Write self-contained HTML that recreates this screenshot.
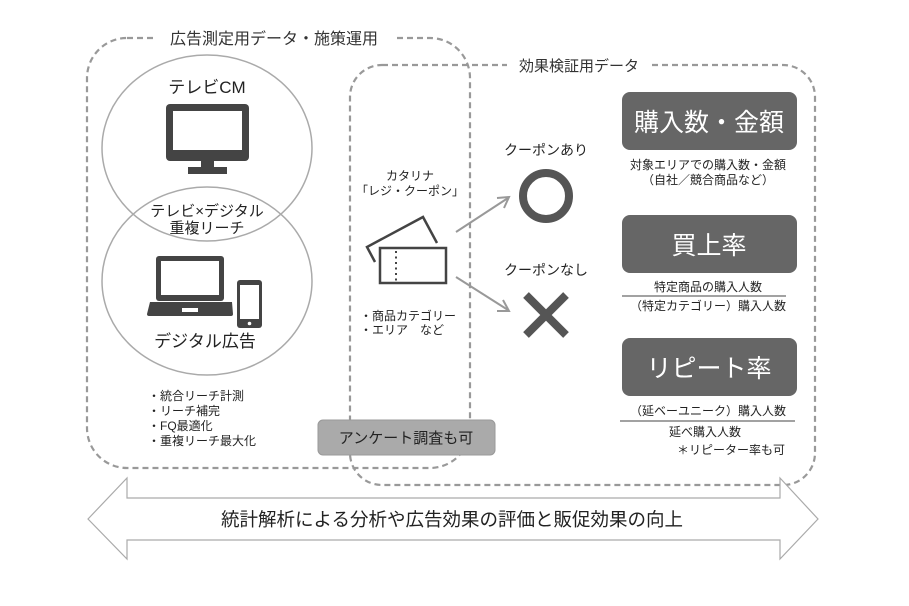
<!DOCTYPE html>
<html><head><meta charset="utf-8"><style>
html,body{margin:0;padding:0;background:#fff}
svg text{font-family:"Liberation Sans","Noto Sans CJK JP",sans-serif}
</style></head><body>
<svg width="909" height="601" viewBox="0 0 909 601" xmlns="http://www.w3.org/2000/svg">
<g fill="none" stroke="#999" stroke-width="2.2" stroke-dasharray="6,4">
<rect x="87" y="38" width="383" height="430" rx="40"/>
<rect x="350" y="65" width="465" height="420" rx="32"/>
</g>
<rect x="154" y="28" width="240" height="20" fill="#fff"/>
<text x="274" y="44" font-size="16" text-anchor="middle" fill="#333">広告測定用データ・施策運用</text>
<rect x="507" y="56" width="144" height="20" fill="#fff"/>
<text x="579" y="71" font-size="15" text-anchor="middle" fill="#333">効果検証用データ</text>

<ellipse cx="207" cy="148" rx="105" ry="93" fill="none" stroke="#aaa" stroke-width="1.5"/>
<ellipse cx="207" cy="281" rx="105" ry="94" fill="none" stroke="#aaa" stroke-width="1.5"/>
<text x="207" y="93" font-size="17" text-anchor="middle" fill="#222">テレビCM</text>
<rect x="166" y="104" width="83" height="57" rx="4" fill="#444"/>
<rect x="173" y="111" width="69" height="39" fill="#fff"/>
<rect x="201" y="160" width="13" height="8" fill="#444"/>
<rect x="188" y="167" width="39" height="7" fill="#444"/>
<text x="207" y="216" font-size="15" text-anchor="middle" fill="#222">テレビ×デジタル</text>
<text x="207" y="233" font-size="15" text-anchor="middle" fill="#222">重複リーチ</text>
<rect x="156" y="256" width="68" height="45" rx="3" fill="#444"/>
<rect x="161" y="261" width="58" height="34" fill="#fff"/>
<path d="M150 302 H232 L233 314 Q233 316 231 316 H149 Q147 316 147 314 Z" fill="#444"/>
<rect x="182" y="308" width="16" height="4" fill="#fff"/>
<rect x="237" y="280" width="25" height="48" rx="3" fill="#444"/>
<rect x="240" y="285" width="19" height="34" fill="#fff"/>
<circle cx="249.5" cy="323.5" r="1.8" fill="#fff"/>
<text x="205" y="347" font-size="17" text-anchor="middle" fill="#222">デジタル広告</text>
<g font-size="12" fill="#222">
<text x="148" y="400">・統合リーチ計測</text>
<text x="148" y="415">・リーチ補完</text>
<text x="148" y="430">・FQ最適化</text>
<text x="148" y="445">・重複リーチ最大化</text>
</g>

<text x="410" y="180" font-size="12" text-anchor="middle" fill="#222">カタリナ</text>
<text x="410" y="195" font-size="12" text-anchor="middle" fill="#222">「レジ・クーポン」</text>
<polyline points="375,262 367,247 423,217 437,243" fill="none" stroke="#444" stroke-width="2.5"/>
<rect x="380" y="248" width="66" height="35" fill="#fff" stroke="#444" stroke-width="2.5"/>
<line x1="396" y1="251" x2="396" y2="282" stroke="#444" stroke-width="2" stroke-dasharray="2,3.5"/>
<text x="360" y="320" font-size="12" fill="#222">・商品カテゴリー</text>
<text x="360" y="334" font-size="12" fill="#222">・エリア　など</text>
<rect x="318" y="420" width="177" height="35" rx="5" fill="#aaa" stroke="#999"/>
<text x="406" y="443" font-size="15" text-anchor="middle" fill="#222">アンケート調査も可</text>

<g stroke="#999" stroke-width="2" fill="none">
<line x1="456" y1="232" x2="508" y2="198"/>
<polyline points="497,198 509,197 504,208"/>
<line x1="456" y1="277" x2="508" y2="310"/>
<polyline points="503,300 509,311 497,311"/>
</g>
<text x="546" y="155" font-size="14" text-anchor="middle" fill="#222">クーポンあり</text>
<circle cx="546" cy="196" r="23" fill="none" stroke="#555" stroke-width="8"/>
<text x="546" y="275" font-size="14" text-anchor="middle" fill="#222">クーポンなし</text>
<g stroke="#555" stroke-width="8"><line x1="526" y1="295" x2="566" y2="335"/><line x1="566" y1="295" x2="526" y2="335"/></g>

<g fill="#666">
<rect x="622" y="92" width="175" height="58" rx="8"/>
<rect x="622" y="215" width="175" height="58" rx="8"/>
<rect x="622" y="338" width="175" height="58" rx="8"/>
</g>
<g fill="#fff" font-size="25" text-anchor="middle">
<text x="709" y="131">購入数・金額</text>
<text x="709" y="254">買上率</text>
<text x="709" y="377">リピート率</text>
</g>
<g font-size="12" fill="#222" text-anchor="middle">
<text x="708" y="169">対象エリアでの購入数・金額</text>
<text x="708" y="184">（自社／競合商品など）</text>
<text x="708" y="291">特定商品の購入人数</text>
<text x="708" y="310">（特定カテゴリー）購入人数</text>
<text x="708" y="415">（延ベーユニーク）購入人数</text>
<text x="705" y="436">延べ購入人数</text>
<text x="785" y="454" text-anchor="end">＊リピーター率も可</text>
</g>
<line x1="622" y1="296" x2="786" y2="296" stroke="#444"/>
<line x1="620" y1="421" x2="795" y2="421" stroke="#444"/>

<path d="M88 519 L127 478 V498 H780 V478 L818 519 L780 559 V540 H127 V559 Z" fill="#fff" stroke="#aaa" stroke-width="1.2"/>
<text x="452" y="526" font-size="18.5" text-anchor="middle" fill="#222">統計解析による分析や広告効果の評価と販促効果の向上</text>
</svg>
</body></html>
